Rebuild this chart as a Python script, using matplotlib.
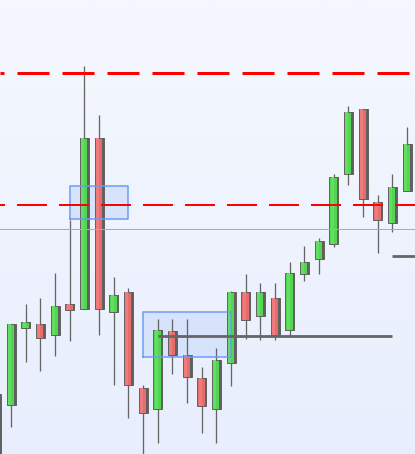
"""candlestick chart with levels and zones"""

import numpy as np
import matplotlib.pyplot as plt
from matplotlib.colors import LinearSegmentedColormap

plt.rcParams["lines.scale_dashes"] = False

# OHLC (price units)
opens = [60, 49, 126, 130, 119, 150, 145, 316, 142, 162, 66, 45, 123, 99, 76,
         45, 91, 162, 138, 156, 124, 180, 195, 210, 280, 345, 252, 231, 263]
highs = [60, 130, 150, 156, 181, 234, 388, 339, 177, 166, 69, 135, 135, 135, 87,
         106, 163, 180, 171, 171, 192, 208, 216, 280, 348, 345, 259, 280, 327]
lows = [-26, 27, 92, 83, 98, 113, 145, 119, 69, 36, -5, 11, 80, 51, 21,
        11, 68, 115, 114, 114, 118, 173, 180, 207, 269, 237, 201, 222, 263]
closes = [-16, 130, 132, 116, 148, 144, 316, 145, 159, 69, 41, 124, 99, 77, 48,
          94, 162, 134, 162, 119, 181, 192, 213, 277, 342, 255, 234, 267, 310]

# red dashed levels
dash_levels = [381, 249]
# grey support segments (level, start bar, end bar)
seg_levels = [118, 198]
seg_start = [11, 27]
seg_end = [27, 29]
# thin cyan level
thin_level = 225
# blue zones
zone_x0 = [5, 10]
zone_x1 = [9, 16]
zone_lo = [235, 97]
zone_hi = [268, 142]

PX = 0.72  # 1 px in points at dpi 100
UNIT = 14.67  # px per bar


def main():
    fig = plt.figure(figsize=(4.15, 4.54), dpi=100)
    ax = fig.add_axes([0, 0, 1, 1])
    ax.set_xlim(0.25, 28.54)
    ax.set_ylim(0, 454)
    ax.axis("off")

    # background gradient
    cmap = LinearSegmentedColormap.from_list("bg", ["#f5f8fe", "#e8eefd"])
    ax.imshow(np.linspace(0, 1, 256).reshape(-1, 1), extent=[0.25, 28.54, 0, 454],
              aspect="auto", cmap=cmap, zorder=0)

    # zones (fill)
    for x0, x1, lo, hi in zip(zone_x0, zone_x1, zone_lo, zone_hi):
        ax.fill_between([x0, x1], lo, hi, color="#d6e3fb", lw=0, zorder=1)

    o = np.array(opens)
    c = np.array(closes)
    x = np.arange(len(o))
    up = c >= o
    bottom = np.minimum(o, c)
    height = np.abs(c - o)

    # wicks
    ax.vlines(x, lows, highs, color="#656565", lw=1.3 * PX, zorder=2)

    # bodies
    w = 9 / UNIT
    face = np.where(up, "#52d652", "#e86c6c")
    ax.bar(x, height, bottom=bottom, width=w, color=face, edgecolor="#636363",
           lw=1.0 * PX, zorder=3)
    # light left half
    light = np.where(up, "#62de62", "#ee7c7c")
    ax.bar(x - 1.5 / UNIT, height, bottom=bottom, width=3 / UNIT, color=light,
           lw=0, zorder=3.5)
    # right shadow
    ax.bar(x + 4 / UNIT, height, bottom=bottom, width=2 / UNIT, color="#606060",
           lw=0, zorder=3.6)

    # zone edges
    for x0, x1, lo, hi in zip(zone_x0, zone_x1, zone_lo, zone_hi):
        ax.plot([x0, x1, x1, x0, x0], [lo, lo, hi, hi, lo], color="#6b9bf5",
                lw=1.5 * PX, zorder=4)

    # support segments
    for lv, s, e in zip(seg_levels, seg_start, seg_end):
        ax.plot([s, e], [lv, lv], color="#666666", lw=2.8 * PX,
                solid_capstyle="butt", zorder=5)

    # thin level
    ax.axhline(thin_level, color="#3adbe8", lw=1.0 * PX, zorder=5)

    # red dashed levels
    ax.axhline(dash_levels[0], color="#ff0000", lw=3 * PX,
               ls=(28 * PX, (32 * PX, 13 * PX)), zorder=6)
    ax.axhline(dash_levels[1], color="#ff0000", lw=2 * PX,
               ls=(25 * PX, (30 * PX, 12 * PX)), zorder=6)

    fig.savefig("out.png", dpi=100)


if __name__ == "__main__":
    main()
